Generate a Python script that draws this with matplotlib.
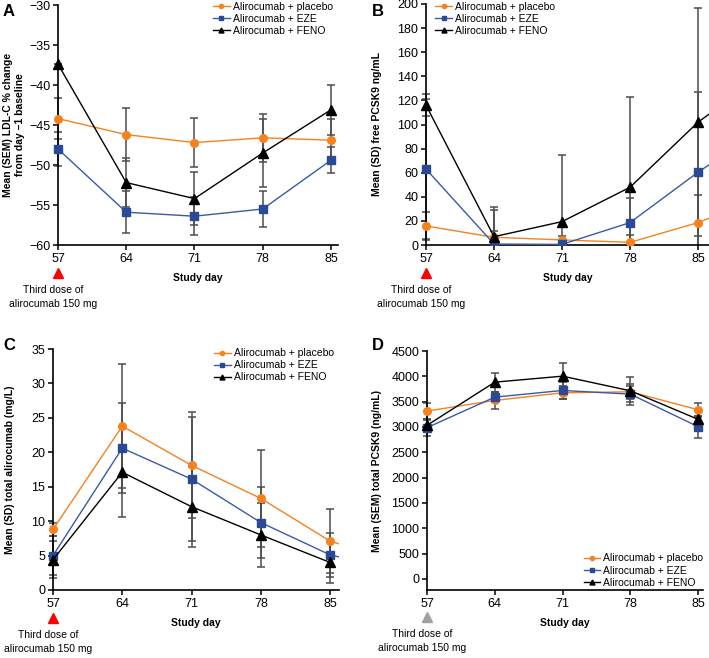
import numpy as np
import matplotlib.pyplot as plt
from matplotlib.patches import Rectangle

plt.rcParams['font.family'] = ['Liberation Sans', 'DejaVu Sans']

days = [57, 64, 71, 78, 85]
days_ext = [57, 64, 71, 78, 85, 92]   # last visit only partly visible at right edge
groups = ['Alirocumab + placebo', 'Alirocumab + EZE', 'Alirocumab + FENO']

# A: LDL-C % change from day -1 (mean, SEM)
ldl_pla = [-44.2, -46.2, -47.2, -46.6, -46.9]
ldl_eze = [-48.0, -55.9, -56.4, -55.5, -49.4]
ldl_fen = [-37.4, -52.2, -54.2, -48.5, -43.1]
ldl_pla_err = [2.6, 3.3, 3.1, 3.0, 2.7]
ldl_eze_err = [2.1, 2.6, 2.4, 2.3, 1.6]
ldl_fen_err = [0, 3.1, 3.3, 4.2, 3.1]

# B: free PCSK9 ng/mL (mean, SD)
free_pla = [15.8, 6.4, 4.2, 2.2, 18.6, 41]
free_eze = [63, 0.8, 0.5, 18.6, 60.4, 98]
free_fen = [116, 6.9, 19.4, 47.9, 101.9, 143]
free_pla_err = [12, 5, 3, 6, 23, 0]
free_eze_err = [58, 28, 2, 20, 66.5, 0]
free_fen_err = [9, 25, 55, 75, 94.5, 0]

# C: total alirocumab mg/L (mean, SD)
alir_pla = [8.8, 23.8, 18.1, 13.3, 7.1, 4.0]
alir_eze = [5.0, 20.6, 16.1, 9.8, 5.1, 2.8]
alir_fen = [4.4, 17.1, 12.1, 8.0, 4.0, np.nan]
alir_pla_err = [1, 9.0, 7.7, 7.0, 4.6, 0]
alir_eze_err = [2.8, 6.5, 9.0, 5.1, 3.2, 0]
alir_fen_err = [2.7, 6.5, 5.8, 4.7, 3.0, 0]

# D: total PCSK9 ng/mL (mean, SEM)
tot_pla = [3314, 3524, 3675, 3694, 3340]
tot_eze = [2986, 3589, 3721, 3648, 3005]
tot_fen = [3032, 3885, 4003, 3714, 3150]
tot_pla_err = [150, 160, 130, 150, 140]
tot_eze_err = [165, 100, 170, 160, 215]
tot_fen_err = [100, 185, 255, 280, 60]

colors = ['#f5821f', '#3a5aa8', '#000000']
mcolors = ['#f5821f', '#2b4a96', '#000000']
markers = ['o', 's', '^']
msizes = [5.5, 5.5, 6.5]


def panel(ax, x, ys, errs, xmax, ylim, yticks, ylabel, ylab_x, dose_color,
          leg_loc, leg_anchor):
    for y, e in zip(ys, errs):
        ax.errorbar(x, y, yerr=e, fmt='none', ecolor='#4d4d4d',
                    elinewidth=1.1, capsize=3, capthick=1.1, zorder=2)
    for y, c, mc, m, ms, lab in zip(ys, colors, mcolors, markers, msizes, groups):
        ax.plot(x, y, color=c, lw=1, marker=m, ms=ms, mec=mc, mfc=mc, label=lab, zorder=3)
    # clip at right/bottom edges only, so markers on the y axis stay whole
    clip = Rectangle((-0.05, 0), 1.05, 1.1, transform=ax.transAxes)
    for art in ax.lines + ax.collections:
        art.set_clip_path(clip)
    ax.set_xlim(57, xmax)
    ax.set_ylim(*ylim)
    ax.set_xticks(days)
    ax.set_yticks(yticks)
    for s in ['top', 'right']:
        ax.spines[s].set_visible(False)
    for s in ['left', 'bottom']:
        ax.spines[s].set_linewidth(1.2)
    ax.tick_params(direction='out', length=3.5, width=1.1, pad=2, labelsize=9)
    ax.set_ylabel(ylabel, fontsize=7.5, fontweight='bold')
    ax.yaxis.set_label_coords(ylab_x, 0.5)
    ax.set_xlabel('Study day', fontsize=7.5, fontweight='bold', labelpad=6)
    ax.plot([57], [-0.115], marker='^', color=dose_color, ms=7, ls='none',
            transform=ax.get_xaxis_transform(), clip_on=False)
    ax.text(56.5, -0.165, 'Third dose of\nalirocumab 150 mg', ha='center', va='top',
            fontsize=7.5, linespacing=1.5, transform=ax.get_xaxis_transform())
    ax.legend(loc=leg_loc, bbox_to_anchor=leg_anchor, frameon=False, fontsize=7.5,
              handlelength=1.6, markerscale=0.55, handletextpad=0.3,
              labelspacing=0.2, borderpad=0)


fig = plt.figure(figsize=(7.09, 6.58), dpi=100)
W, H = 709, 658


def add_axes(l, r, t, b):
    return fig.add_axes([l / W, 1 - b / H, (r - l) / W, (b - t) / H])


axA = add_axes(58, 338, 5, 245)
panel(axA, days, [ldl_pla, ldl_eze, ldl_fen], [ldl_pla_err, ldl_eze_err, ldl_fen_err],
      85.72, (-60, -30), range(-60, -29, 5),
      'Mean (SEM) LDL-C % change\nfrom day \u20131 baseline', -0.118, 'red',
      'upper right', (1.0, 1.035))

axB = add_axes(426, 709, 4, 245)
panel(axB, days_ext, [free_pla, free_eze, free_fen], [free_pla_err, free_eze_err, free_fen_err],
      86.13, (0, 200), range(0, 201, 20),
      'Mean (SD) free PCSK9 ng/mL', -0.155, 'red',
      'upper left', (0.015, 1.03))

axC = add_axes(53, 339, 349, 590)
panel(axC, days_ext, [alir_pla, alir_eze, alir_fen], [alir_pla_err, alir_eze_err, alir_fen_err],
      85.9, (0, 35), range(0, 36, 5),
      'Mean (SD) total alirocumab (mg/L)', -0.133, 'red',
      'upper right', (1.0, 1.025))

axD = add_axes(427, 703, 351, 590)
panel(axD, days, [tot_pla, tot_eze, tot_fen], [tot_pla_err, tot_eze_err, tot_fen_err],
      85.5, (-220, 4500), range(0, 4501, 500),
      'Mean (SEM) total PCSK9 (ng/mL)', -0.163, '#a0a0a0',
      'lower right', (1.02, -0.012))

for lab, x, y in [('A', 3, 12), ('B', 372, 12), ('C', 3, 345), ('D', 372, 345)]:
    fig.text(x / W, 1 - y / H, lab, fontsize=12, fontweight='bold', va='center')

fig.savefig('out.png', dpi=100)
